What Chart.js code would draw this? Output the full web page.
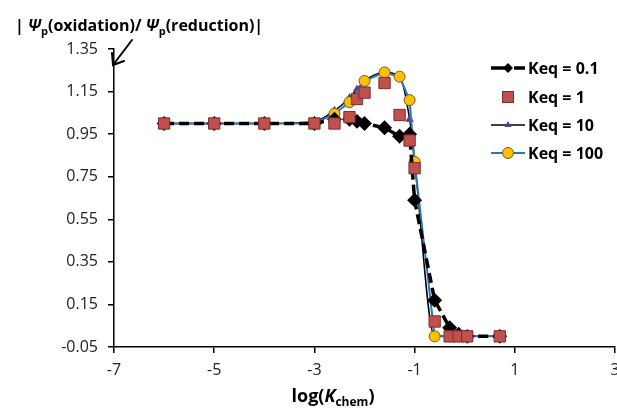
<!DOCTYPE html>
<html>
<head>
<meta charset="utf-8">
<script src="https://cdn.jsdelivr.net/npm/chart.js@4/dist/chart.umd.min.js"></script>
<style>
  html, body { margin: 0; padding: 0; background: #fff; }
  #chart { display: block; }
</style>
</head>
<body>
<canvas id="chart" width="617" height="410"></canvas>
<script>
// log(Kchem) positions and |Psi_p(ox)/Psi_p(red)| values
const logK = [-6, -5, -4, -3, -2.6, -2.3, -2.15, -2, -1.6, -1.3, -1.1, -1, -0.6, -0.3, -0.12, 0.05, 0.7];
const keq01 = [1.0, 1.0, 1.0, 1.0, 1.02, 1.02, 1.01, 1.0, 0.98, 0.94, 0.95, 0.64, 0.17, 0.04, 0.01, 0.0, 0.0];
const keq1 = [1.0, 1.0, 1.0, 1.0, 1.0, 1.03, 1.115, 1.145, 1.19, 1.04, 0.92, 0.79, 0.07, 0.0, 0.0, 0.0, 0.0];
const keq10 = [1.0, 1.0, 1.0, 1.01, 1.06, 1.12, 1.16, 1.2, 1.24, 1.22, 1.02, 0.82, 0.0, 0.0, 0.0, 0.0, 0.0];

const logK100 = [-6, -5, -4, -3, -2.6, -2.3, -2, -1.6, -1.3, -1.1, -1, -0.6, -0.3, -0.12, 0.05, 0.7];
const keq100 = [1.0, 1.0, 1.0, 1.0, 1.046, 1.1, 1.2, 1.24, 1.22, 1.11, 0.82, 0.0, 0.0, 0.0, 0.0, 0.0];

const seriesLabels = ['Keq = 0.1', 'Keq = 1', 'Keq = 10', 'Keq = 100'];
const xTicks = [-7, -5, -3, -1, 1, 3];
const yTicks = [-0.05, 0.15, 0.35, 0.55, 0.75, 0.95, 1.15, 1.35];

const FONT = "'Open Sans', 'Noto Sans', sans-serif";

function pts(xs, ys) {
    return xs.map((x, i) => ({ x: x, y: ys[i] }));
}

// draws the title, arrow, x title and the legend by hand
const decorPlugin = {
    id: 'decor',
    afterDraw(chart) {
        const ctx = chart.ctx;
        ctx.save();
        ctx.fillStyle = '#000';
        ctx.textBaseline = 'alphabetic';

        // y axis title at top left
        const parts = [
            ['| ', 'bold 16px ' + FONT, 0],
            ['\u03A8', 'italic bold 16px ' + FONT, 0],
            ['p', 'bold 11px ' + FONT, 4],
            ['(oxidation)/ ', 'bold 16px ' + FONT, 0],
            ['\u03A8', 'italic bold 16px ' + FONT, 0],
            ['p', 'bold 11px ' + FONT, 4],
            ['(reduction)|', 'bold 16px ' + FONT, 0]
        ];
        let x = 15;
        parts.forEach(p => {
            ctx.font = p[1];
            ctx.fillText(p[0], x, 31 + p[2]);
            x += ctx.measureText(p[0]).width;
        });

        // arrow pointing at the axis top
        ctx.strokeStyle = '#000';
        ctx.lineWidth = 2;
        ctx.lineCap = 'round';
        ctx.beginPath();
        ctx.moveTo(132, 40);
        ctx.lineTo(113, 65);
        ctx.moveTo(112, 53);
        ctx.lineTo(113, 65);
        ctx.lineTo(124, 61);
        ctx.stroke();

        // x axis title
        const xparts = [
            ['log(', 'bold 18px ' + FONT, 0],
            ['K', 'italic bold 18px ' + FONT, 0],
            ['chem', 'bold 12px ' + FONT, 4],
            [')', 'bold 18px ' + FONT, 0]
        ];
        let w = 0;
        xparts.forEach(p => { ctx.font = p[1]; w += ctx.measureText(p[0]).width; });
        x = 333 - w / 2;
        xparts.forEach(p => {
            ctx.font = p[1];
            ctx.fillText(p[0], x, 402 + p[2]);
            x += ctx.measureText(p[0]).width;
        });

        // legend
        const rows = [68, 97, 125, 153];
        const x0 = 491, x1 = 525, xm = 508;
        const ds = chart.data.datasets;

        // Keq = 0.1
        ctx.lineCap = 'butt';
        ctx.strokeStyle = '#000';
        ctx.lineWidth = 3.5;
        ctx.beginPath();
        ctx.moveTo(x0, rows[0]); ctx.lineTo(xm - 3, rows[0]);
        ctx.moveTo(xm + 6, rows[0]); ctx.lineTo(x1, rows[0]);
        ctx.stroke();
        ctx.beginPath();
        ctx.moveTo(xm, rows[0] - 5); ctx.lineTo(xm + 5, rows[0]);
        ctx.lineTo(xm, rows[0] + 5); ctx.lineTo(xm - 5, rows[0]);
        ctx.closePath();
        ctx.fillStyle = '#000';
        ctx.fill();

        // Keq = 1
        ctx.fillStyle = ds[1].pointBackgroundColor;
        ctx.strokeStyle = ds[1].pointBorderColor;
        ctx.lineWidth = 1;
        ctx.fillRect(xm - 5.5, rows[1] - 5.5, 11, 11);
        ctx.strokeRect(xm - 5.5, rows[1] - 5.5, 11, 11);

        // Keq = 10
        ctx.strokeStyle = '#000';
        ctx.lineWidth = 1.5;
        ctx.beginPath();
        ctx.moveTo(x0, rows[2]); ctx.lineTo(x1, rows[2]);
        ctx.stroke();
        ctx.fillStyle = ds[2].pointBackgroundColor;
        ctx.beginPath();
        ctx.moveTo(xm, rows[2] - 4); ctx.lineTo(xm + 3.5, rows[2] + 2);
        ctx.lineTo(xm - 3.5, rows[2] + 2);
        ctx.closePath();
        ctx.fill();

        // Keq = 100
        ctx.strokeStyle = ds[3].borderColor;
        ctx.lineWidth = 2;
        ctx.beginPath();
        ctx.moveTo(x0, rows[3]); ctx.lineTo(x1, rows[3]);
        ctx.stroke();
        ctx.fillStyle = ds[3].pointBackgroundColor;
        ctx.strokeStyle = ds[3].pointBorderColor;
        ctx.lineWidth = 1;
        ctx.beginPath();
        ctx.arc(xm, rows[3], 5.5, 0, Math.PI * 2);
        ctx.fill();
        ctx.stroke();

        ctx.fillStyle = '#000';
        ctx.font = 'bold 16px ' + FONT;
        ctx.textBaseline = 'middle';
        seriesLabels.forEach((t, i) => ctx.fillText(t, 528, rows[i] + 1));

        ctx.restore();
    }
};

function axisGrid() {
    return {
        drawOnChartArea: false,
        drawTicks: true,
        tickLength: 6,
        color: '#000',
        lineWidth: 1.5
    };
}

const ctx = document.getElementById('chart').getContext('2d');
new Chart(ctx, {
    type: 'line',
    data: {
        datasets: [
            {
                label: seriesLabels[0],
                data: pts(logK, keq01),
                borderColor: '#000',
                borderWidth: 3.5,
                borderDash: [10, 5],
                pointStyle: 'rectRot',
                pointRadius: 5,
                pointBackgroundColor: '#000',
                pointBorderColor: '#000',
                order: 1
            },
            {
                label: seriesLabels[1],
                data: pts(logK, keq1),
                showLine: false,
                pointStyle: 'rect',
                pointRadius: 8,
                pointBackgroundColor: '#C0504D',
                pointBorderColor: '#7A2E2C',
                pointBorderWidth: 1,
                order: 0
            },
            {
                label: seriesLabels[2],
                data: pts(logK, keq10),
                borderColor: '#000',
                borderWidth: 1.5,
                cubicInterpolationMode: 'monotone',
                pointStyle: 'triangle',
                pointRadius: 3.5,
                pointBackgroundColor: '#5B3F8C',
                pointBorderColor: '#5B3F8C',
                order: 3
            },
            {
                label: seriesLabels[3],
                data: pts(logK100, keq100),
                borderColor: '#2E75B6',
                borderWidth: 2,
                pointStyle: 'circle',
                pointRadius: 5.5,
                pointBackgroundColor: '#FFC000',
                pointBorderColor: '#6B5A2A',
                pointBorderWidth: 1,
                order: 2
            }
        ]
    },
    options: {
        responsive: false,
        animation: false,
        devicePixelRatio: 1,
        layout: {
            autoPadding: false,
            padding: { top: 49, right: 2, left: 0, bottom: 0 }
        },
        plugins: {
            legend: { display: false },
            tooltip: { enabled: false }
        },
        scales: {
            x: {
                type: 'linear',
                min: -7,
                max: 3,
                afterBuildTicks: (scale) => { scale.ticks = xTicks.map(v => ({ value: v })); },
                ticks: {
                    font: { family: FONT, size: 16 },
                    color: '#222',
                    padding: 8,
                    maxRotation: 0
                },
                grid: axisGrid(),
                border: { color: '#000', width: 1.5 },
                afterFit: (scale) => {
                    scale.height = 63;
                    scale.paddingLeft = 0;
                    scale.paddingRight = 0;
                }
            },
            y: {
                type: 'linear',
                min: -0.05,
                max: 1.35,
                afterBuildTicks: (scale) => { scale.ticks = yTicks.map(v => ({ value: v })); },
                ticks: {
                    font: { family: FONT, size: 16 },
                    color: '#222',
                    padding: 10,
                    callback: (v) => v.toFixed(2)
                },
                grid: axisGrid(),
                border: { color: '#000', width: 1.5 },
                afterFit: (scale) => {
                    scale.width = 114;
                    scale.paddingTop = 0;
                    scale.paddingBottom = 0;
                }
            }
        }
    },
    plugins: [decorPlugin]
});
</script>
</body>
</html>
